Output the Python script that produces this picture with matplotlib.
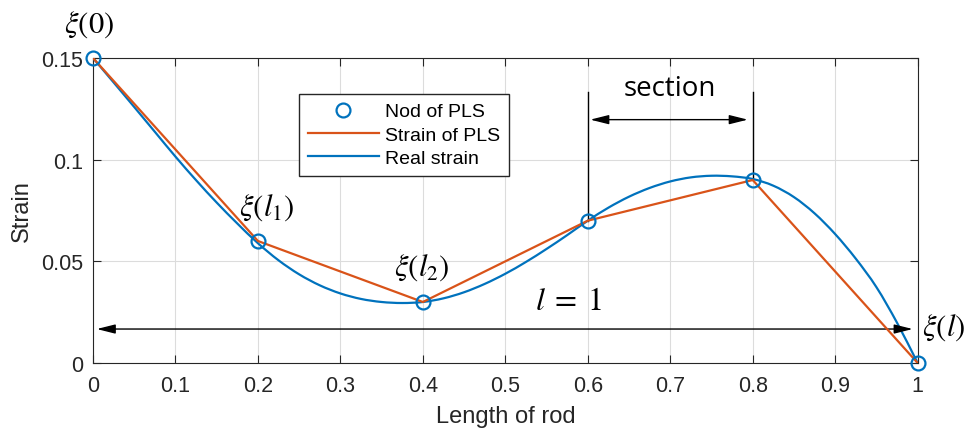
import matplotlib
matplotlib.use("Agg")
import matplotlib.pyplot as plt
import numpy as np
from matplotlib.path import Path
from matplotlib.patches import PathPatch

plt.rcParams['font.family'] = ['Liberation Sans', 'DejaVu Sans']
plt.rcParams['mathtext.fontset'] = 'stix'

# nodes of the piecewise linear strain (PLS)
node_x = [0.0, 0.2, 0.4, 0.6, 0.8, 1.0]
node_y = [0.15, 0.06, 0.03, 0.07, 0.09, 0.0]

# measured real strain along the rod
real_x = [0.0, 0.025, 0.05, 0.075, 0.1, 0.125, 0.15, 0.175, 0.2, 0.225,
          0.25, 0.275, 0.3, 0.325, 0.35, 0.375, 0.4, 0.425, 0.45, 0.475,
          0.5, 0.525, 0.55, 0.575, 0.6, 0.625, 0.65, 0.675, 0.7, 0.725,
          0.75, 0.775, 0.8, 0.825, 0.85, 0.875, 0.9, 0.925, 0.95, 0.975, 1.0]
real_y = [0.1500, 0.1380, 0.1259, 0.1137, 0.1015, 0.0899, 0.0789, 0.0686, 0.0589, 0.0505,
          0.0436, 0.0382, 0.0342, 0.0315, 0.0300, 0.0295, 0.0300, 0.0318, 0.0348, 0.0389,
          0.0439, 0.0497, 0.0561, 0.0629, 0.0700, 0.0764, 0.0818, 0.0861, 0.0893, 0.0913,
          0.0921, 0.0918, 0.0905, 0.0872, 0.0816, 0.0736, 0.0634, 0.0513, 0.0373, 0.0198, 0.0]

xticks = [0, 0.1, 0.2, 0.3, 0.4, 0.5, 0.6, 0.7, 0.8, 0.9, 1]
xtick_labels = ['0', '0.1', '0.2', '0.3', '0.4', '0.5', '0.6', '0.7', '0.8', '0.9', '1']
yticks = [0, 0.05, 0.1, 0.15]
ytick_labels = ['0', '0.05', '0.1', '0.15']

blue = '#0072BD'
orange = '#D95319'
dark = '#262626'

fig = plt.figure(figsize=(9.69, 4.31), dpi=100)
ax = fig.add_axes([0.096, 0.1555, 0.851, 0.7075])

ax.plot(node_x, node_y, 'o', color=blue, mfc='none', ms=10, mew=1.6,
        label='Nod of PLS', zorder=5, clip_on=False)
ax.plot(node_x, node_y, '-', color=orange, lw=1.6, label='Strain of PLS', zorder=4)
ax.plot([], [], '-', color=blue, lw=1.6, label='Real strain')

# real strain drawn as a smooth curve through the measured points
pts = np.column_stack([real_x, real_y])
ext = np.vstack([2 * pts[0] - pts[1], pts, 2 * pts[-1] - pts[-2]])
verts = [pts[0]]
codes = [Path.MOVETO]
for i in range(1, len(ext) - 2):
    p0, p1, p2, p3 = ext[i - 1], ext[i], ext[i + 1], ext[i + 2]
    verts += [p1 + (p2 - p0) / 6, p2 - (p3 - p1) / 6, p2]
    codes += [Path.CURVE4] * 3
ax.add_patch(PathPatch(Path(verts, codes), fill=False, edgecolor=blue,
                       lw=1.6, zorder=3))

ax.set_xlim(0, 1)
ax.set_ylim(0, 0.15)
ax.set_xticks(xticks)
ax.set_xticklabels(xtick_labels)
ax.set_yticks(yticks)
ax.set_yticklabels(ytick_labels)
ax.grid(True, color='#dcdcdc', lw=0.8)
ax.set_axisbelow(True)
ax.tick_params(direction='in', length=6, width=0.8, color=dark, labelsize=15.5,
               labelcolor=dark, top=True, right=True)
ax.tick_params(axis='x', pad=9)
ax.tick_params(axis='y', pad=7)
for sp in ax.spines.values():
    sp.set_color(dark)
    sp.set_linewidth(0.8)

ax.set_xlabel('Length of rod', fontsize=17, color=dark, labelpad=6)
ax.set_ylabel('Strain', fontsize=17, color=dark, labelpad=6)

leg = ax.legend(loc='upper left', bbox_to_anchor=(0.25, 0.882), borderaxespad=0,
                fontsize=14, fancybox=False, framealpha=1, edgecolor=dark,
                handlelength=3.65, handletextpad=0.3, labelspacing=0.3,
                borderpad=0.45)
leg.get_frame().set_linewidth(1.0)

# node labels
ax.text(-0.005, 0.167, r'$\xi(0)$', fontsize=22, ha='center', va='center', clip_on=False)
ax.text(0.21, 0.0767, r'$\xi(l_1)$', fontsize=22, ha='center', va='center')
ax.text(0.399, 0.0472, r'$\xi(l_2)$', fontsize=22, ha='center', va='center')
ax.text(1.031, 0.0177, r'$\xi(l)$', fontsize=22, ha='center', va='center', clip_on=False)
ax.text(0.577, 0.0305, r'$l\;=\;1$', fontsize=23, ha='center', va='center')

# total length arrow
ax.annotate('', xy=(0.0045, 0.0167), xytext=(0.994, 0.0167),
            arrowprops=dict(arrowstyle='<|-|>,head_length=0.8,head_width=0.2',
                            color='black', lw=1.0, mutation_scale=14,
                            shrinkA=0, shrinkB=0))

# one section between two nodes
ax.plot([0.6, 0.6], [node_y[3], 0.1335], color='black', lw=1.0, zorder=2)
ax.plot([0.8, 0.8], [node_y[4], 0.1335], color='black', lw=1.0, zorder=2)
ax.annotate('', xy=(0.603, 0.1197), xytext=(0.794, 0.1197),
            arrowprops=dict(arrowstyle='<|-|>,head_length=0.8,head_width=0.2',
                            color='black', lw=1.0, mutation_scale=14,
                            shrinkA=0, shrinkB=0))
ax.text(0.699, 0.1353, 'section', fontsize=20, family='Open Sans',
        ha='center', va='center')

fig.savefig('out.png', dpi=100)
